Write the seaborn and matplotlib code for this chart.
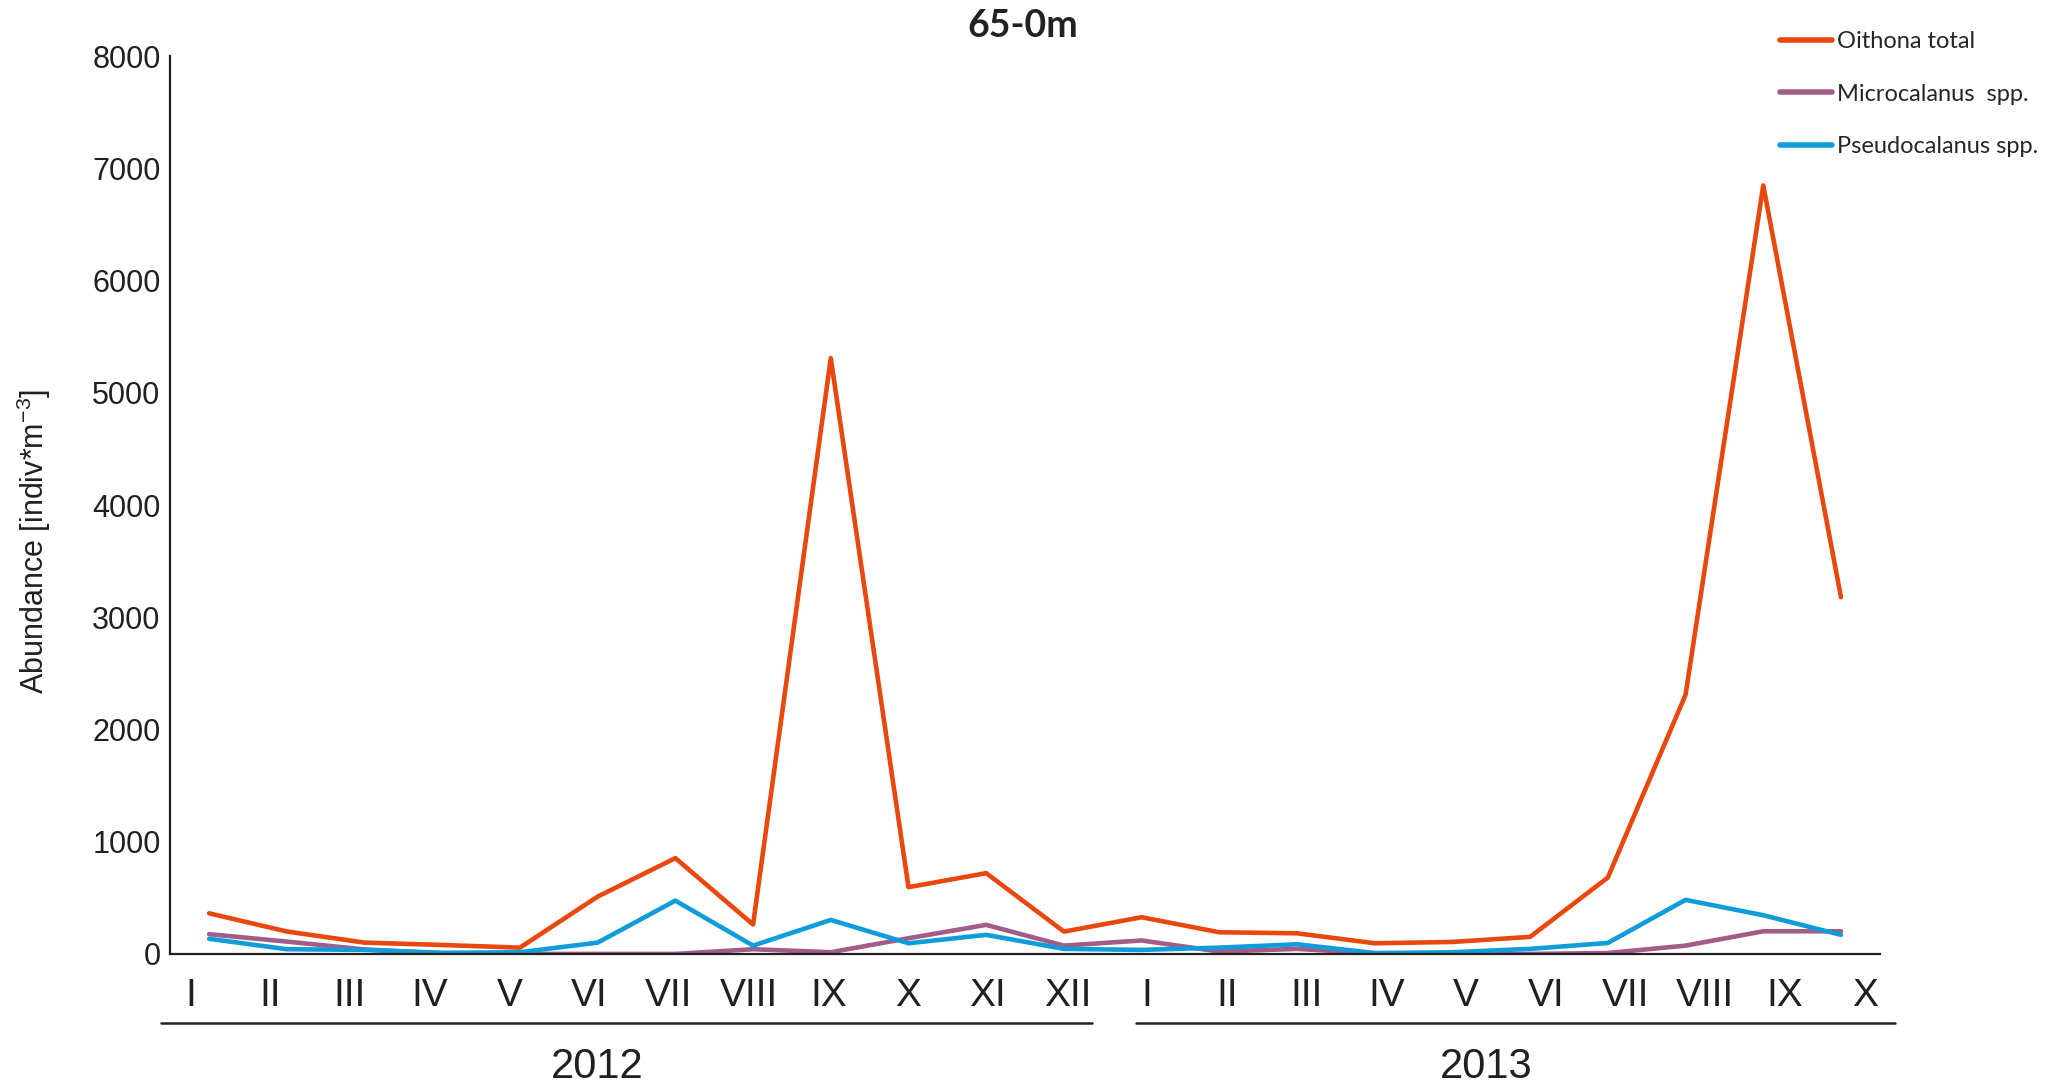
import numpy as np
import pandas as pd
import seaborn as sns
import matplotlib.pyplot as plt
import matplotlib.transforms as mtransforms

months = ['I', 'II', 'III', 'IV', 'V', 'VI', 'VII', 'VIII', 'IX', 'X', 'XI', 'XII',
          'I', 'II', 'III', 'IV', 'V', 'VI', 'VII', 'VIII', 'IX', 'X']
years = ['2012', '2013']

oithona = [362, 200, 101, 80, 56, 511, 854, 262, 5310, 595, 720, 199,
           327, 193, 184, 95, 107, 152, 681, 2310, 6850, 3180]
microcalanus = [176, 110, 40, 5, 0, 0, 0, 42, 15, 140, 259, 74,
                120, 21, 45, 6, 0, 0, 8, 74, 202, 202]
pseudocalanus = [135, 42, 36, 10, 15, 101, 475, 74, 303, 95, 170, 45,
                 36, 56, 86, 8, 15, 45, 98, 482, 345, 170]

series = ['Oithona total', 'Microcalanus  spp.', 'Pseudocalanus spp.']
colors = ['#E8470E', '#A15C88', '#0E9DDA']

df = pd.DataFrame({'idx': np.arange(len(months)),
                   series[0]: oithona,
                   series[1]: microcalanus,
                   series[2]: pseudocalanus})
long = df.melt(id_vars='idx', var_name='species', value_name='abundance')

sns.set_style('white')
plt.rcParams['font.family'] = ['Liberation Sans', 'DejaVu Sans']
plt.rcParams['mathtext.fontset'] = 'custom'
plt.rcParams['mathtext.rm'] = 'Liberation Sans'
plt.rcParams['mathtext.it'] = 'Liberation Sans'

fig = plt.figure(figsize=(20.54, 10.85), dpi=100)
ax = fig.add_axes([0.0829, 0.1208, 0.9152 - 0.0829, 0.948 - 0.1208])

sns.lineplot(data=long, x='idx', y='abundance', hue='species',
             hue_order=series, palette=colors, linewidth=3.3, ax=ax,
             legend=False)

ax.set_xlim(-0.5, 21.5)
ax.set_ylim(0, 8000)
ax.set_yticks(np.arange(0, 8001, 1000))
ax.tick_params(axis='y', labelsize=22, length=0, pad=7, colors='#231F20')
# month labels are spread a bit wider than the data points in the original
tick_pos = np.arange(len(months)) * 1.026 - 0.24
ax.set_xticks(tick_pos)
ax.set_xticklabels(months)
ax.tick_params(axis='x', labelsize=28, length=0, pad=17, colors='#231F20')
ax.set_xlabel('')
ax.set_ylabel('')

sns.despine(ax=ax)
for side in ['left', 'bottom']:
    ax.spines[side].set_linewidth(1.6)
    ax.spines[side].set_color('#231F20')

# year brackets under the month labels
trans = mtransforms.blended_transform_factory(ax.transData, ax.transAxes)
ax.plot([-0.62, 11.36], [-0.077, -0.077], transform=trans, clip_on=False,
        color='#231F20', lw=1.8)
ax.plot([11.93, 21.69], [-0.077, -0.077], transform=trans, clip_on=False,
        color='#231F20', lw=1.8)
ax.text(4.99, -0.126, years[0], transform=trans, ha='center', va='center',
        fontsize=30, color='#231F20')
ax.text(16.43, -0.126, years[1], transform=trans, ha='center', va='center',
        fontsize=30, color='#231F20')

fig.text(0.0166, 0.501, r'Abundance [indiv*m$^{-3}$]', rotation=90,
         ha='center', va='center', fontsize=22, color='#231F20')
fig.text(0.498, 0.976, '65-0m', ha='center', va='center', fontsize=27,
         fontweight='bold', family=['Lato', 'DejaVu Sans'], color='#222222')

handles = [plt.Line2D([], [], color=c, lw=4) for c in colors]
fig.legend(handles, series, loc='upper left', bbox_to_anchor=(0.862, 0.980),
           frameon=False, handlelength=2.2, handletextpad=0.2,
           labelspacing=1.33, borderaxespad=0,
           prop={'family': ['Lato', 'DejaVu Sans'], 'size': 17})

fig.savefig('out.png', dpi=100)
